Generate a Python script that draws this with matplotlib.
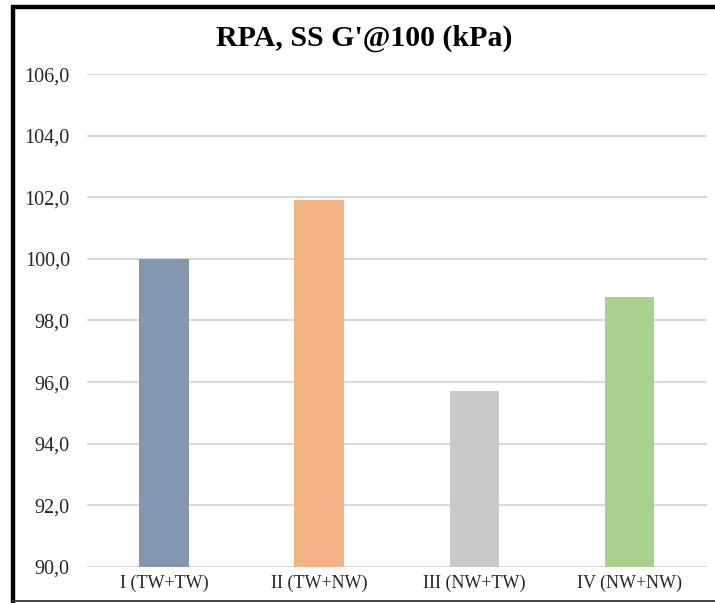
import matplotlib.pyplot as plt
from matplotlib.lines import Line2D
from matplotlib.ticker import FuncFormatter

# values
categories = ['I (TW+TW)', 'II (TW+NW)', 'III (NW+TW)', 'IV (NW+NW)']
values = [100.0, 101.9, 95.7, 98.75]
colors = ['#8497B0', '#F4B183', '#C9C9C9', '#A9D18E']
y_ticks = [90, 92, 94, 96, 98, 100, 102, 104, 106]
title = "RPA, SS G'@100 (kPa)"

plt.rcParams['font.family'] = ['Liberation Serif', 'DejaVu Serif']

W, H = 715, 603
fig = plt.figure(figsize=(W / 100, H / 100), dpi=100)
ax = fig.add_axes([0.121, 0.06, 0.868, 0.817])

x = range(len(categories))
ax.bar(x, values, width=0.32, color=colors, zorder=3)

ax.set_xlim(-0.5, len(categories) - 0.5)
ax.set_ylim(90, 106)
ax.set_yticks(y_ticks)
ax.yaxis.set_major_formatter(FuncFormatter(lambda v, p: f"{v:.1f}".replace('.', ',')))
ax.set_xticks(list(x))
ax.set_xticklabels(categories)
ax.grid(axis='y', color='#D9D9D9', linewidth=1.5, zorder=0)
for s in ax.spines.values():
    s.set_visible(False)
ax.tick_params(axis='both', length=0, colors='#262626')
ax.tick_params(axis='y', pad=12, labelsize=14.5)
ax.tick_params(axis='x', pad=6, labelsize=13)

fig.text(0.51, 0.937, title, ha='center', va='center', fontsize=21.5, fontweight='bold')

# frame: thick top and left, thin bottom, open on the right
def fx(px):
    return px / W

def fy(py):
    return 1 - py / H

frame = [
    ([11.5, 715], [7, 7], 'black', 3.2),
    ([13, 13], [5.5, 603], 'black', 3.2),
    ([11.5, 715], [601, 601], '#333333', 1.3),
]
for xs, ys, c, lw in frame:
    fig.lines.append(Line2D([fx(v) for v in xs], [fy(v) for v in ys],
                            transform=fig.transFigure, color=c, linewidth=lw,
                            solid_capstyle='butt'))

fig.savefig('out.png', dpi=100)
